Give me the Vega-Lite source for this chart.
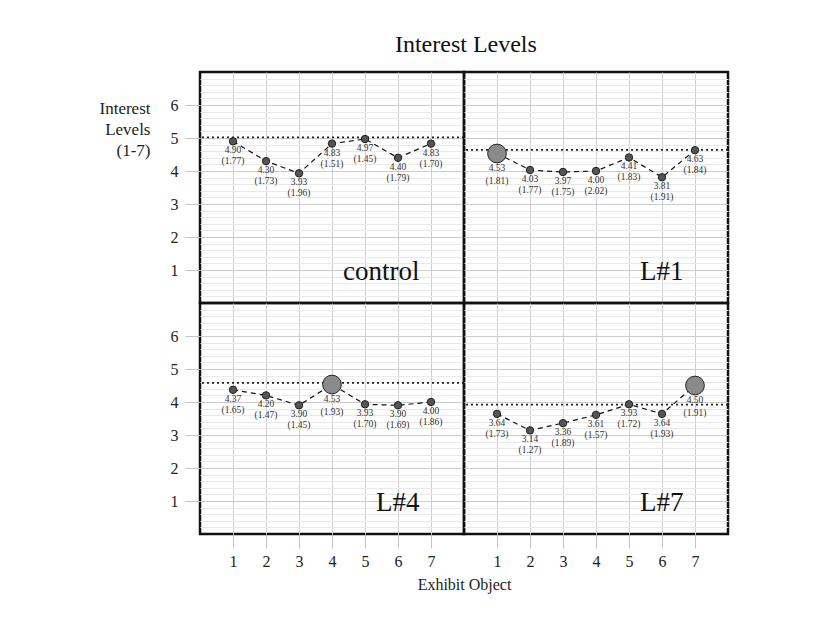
{
  "$schema": "https://vega.github.io/schema/vega-lite/v6.json",
  "padding": {"left": 97, "top": 32, "right": 5, "bottom": 5},
  "background": "white",
  "title": {"text": "Interest Levels", "fontSize": 24, "fontWeight": "normal", "font": "Liberation Serif", "anchor": "middle", "frame": "bounds", "offset": 14, "dx": 52, "color": "#111"},
  "config": {
    "font": "Liberation Serif",
    "view": {"stroke": "#111", "strokeWidth": 2.5},
    "axis": {"labelFont": "Liberation Serif", "titleFont": "Liberation Serif", "labelColor": "#222", "titleColor": "#222", "titleFontWeight": "normal"}
  },
  "data": {"values": [
    {"panel": "control", "obj": 1, "mean": 4.90, "sd": "(1.77)", "featured": false, "ref": 5.02},
    {"panel": "control", "obj": 2, "mean": 4.30, "sd": "(1.73)", "featured": false, "ref": 5.02},
    {"panel": "control", "obj": 3, "mean": 3.93, "sd": "(1.96)", "featured": false, "ref": 5.02},
    {"panel": "control", "obj": 4, "mean": 4.83, "sd": "(1.51)", "featured": false, "ref": 5.02},
    {"panel": "control", "obj": 5, "mean": 4.97, "sd": "(1.45)", "featured": false, "ref": 5.02},
    {"panel": "control", "obj": 6, "mean": 4.40, "sd": "(1.79)", "featured": false, "ref": 5.02},
    {"panel": "control", "obj": 7, "mean": 4.83, "sd": "(1.70)", "featured": false, "ref": 5.02},
    {"panel": "L#1", "obj": 1, "mean": 4.53, "sd": "(1.81)", "featured": true, "ref": 4.64},
    {"panel": "L#1", "obj": 2, "mean": 4.03, "sd": "(1.77)", "featured": false, "ref": 4.64},
    {"panel": "L#1", "obj": 3, "mean": 3.97, "sd": "(1.75)", "featured": false, "ref": 4.64},
    {"panel": "L#1", "obj": 4, "mean": 4.00, "sd": "(2.02)", "featured": false, "ref": 4.64},
    {"panel": "L#1", "obj": 5, "mean": 4.41, "sd": "(1.83)", "featured": false, "ref": 4.64},
    {"panel": "L#1", "obj": 6, "mean": 3.81, "sd": "(1.91)", "featured": false, "ref": 4.64},
    {"panel": "L#1", "obj": 7, "mean": 4.63, "sd": "(1.84)", "featured": false, "ref": 4.64},
    {"panel": "L#4", "obj": 1, "mean": 4.37, "sd": "(1.65)", "featured": false, "ref": 4.58},
    {"panel": "L#4", "obj": 2, "mean": 4.20, "sd": "(1.47)", "featured": false, "ref": 4.58},
    {"panel": "L#4", "obj": 3, "mean": 3.90, "sd": "(1.45)", "featured": false, "ref": 4.58},
    {"panel": "L#4", "obj": 4, "mean": 4.53, "sd": "(1.93)", "featured": true, "ref": 4.58},
    {"panel": "L#4", "obj": 5, "mean": 3.93, "sd": "(1.70)", "featured": false, "ref": 4.58},
    {"panel": "L#4", "obj": 6, "mean": 3.90, "sd": "(1.69)", "featured": false, "ref": 4.58},
    {"panel": "L#4", "obj": 7, "mean": 4.00, "sd": "(1.86)", "featured": false, "ref": 4.58},
    {"panel": "L#7", "obj": 1, "mean": 3.64, "sd": "(1.73)", "featured": false, "ref": 3.92},
    {"panel": "L#7", "obj": 2, "mean": 3.14, "sd": "(1.27)", "featured": false, "ref": 3.92},
    {"panel": "L#7", "obj": 3, "mean": 3.36, "sd": "(1.89)", "featured": false, "ref": 3.92},
    {"panel": "L#7", "obj": 4, "mean": 3.61, "sd": "(1.57)", "featured": false, "ref": 3.92},
    {"panel": "L#7", "obj": 5, "mean": 3.93, "sd": "(1.72)", "featured": false, "ref": 3.92},
    {"panel": "L#7", "obj": 6, "mean": 3.64, "sd": "(1.93)", "featured": false, "ref": 3.92},
    {"panel": "L#7", "obj": 7, "mean": 4.50, "sd": "(1.91)", "featured": true, "ref": 3.92}
  ]},
  "columns": 2,
  "spacing": 0,
  "bounds": "flush",
  "concat": [
    {
      "width": 264, "height": 231,
      "transform": [{"filter": "datum.panel === 'control'"}],
      "resolve": {"axis": {"y": "independent"}},
      "layer": [
        {"transform": [{"filter": "datum.obj === 1"}], "mark": {"type": "rule", "strokeDash": [2, 3], "strokeWidth": 1.6, "color": "#222"},
         "encoding": {"y": {"field": "ref", "type": "quantitative", "scale": {"domain": [0, 7], "nice": false, "zero": false},
           "axis": {"orient": "left", "values": [0.2, 0.4, 0.6, 0.8, 1.2, 1.4, 1.6, 1.8, 2.2, 2.4, 2.6, 2.8, 3.2, 3.4, 3.6, 3.8, 4.2, 4.4, 4.6, 4.8, 5.2, 5.4, 5.6, 5.8, 6.2, 6.4, 6.6, 6.8], "grid": true, "gridColor": "#e9e9e9", "labels": false, "ticks": false, "domain": false, "title": null}}}},
        {"mark": {"type": "line", "strokeDash": [5, 4], "strokeWidth": 1.2, "color": "#111"},
         "encoding": {
           "x": {"field": "obj", "type": "quantitative", "scale": {"domain": [0, 8], "nice": false, "zero": false},
                 "axis": {"values": [1, 2, 3, 4, 5, 6, 7], "grid": true, "gridColor": "#cfcfcf", "labels": false, "ticks": false, "domain": false, "title": null}},
           "y": {"field": "mean", "type": "quantitative",
                 "axis": {"orient": "left", "values": [1, 2, 3, 4, 5, 6], "grid": true, "gridColor": "#cccccc", "labelFontSize": 16, "labelPadding": 7,
                          "tickSize": 15, "tickColor": "#c4c4c4", "domain": false,
                          "title": ["Interest", "Levels", "(1-7)"], "titleFontSize": 17, "titleAngle": 0, "titleAlign": "right", "titleBaseline": "top", "titleLineHeight": 21, "titleX": -50, "titleY": 28}}}},
        {"mark": {"type": "circle", "stroke": "#222", "strokeWidth": 1, "opacity": 1},
         "encoding": {"x": {"field": "obj", "type": "quantitative"}, "y": {"field": "mean", "type": "quantitative", "axis": null},
           "size": {"field": "featured", "type": "nominal", "scale": {"domain": [false, true], "range": [55, 350]}, "legend": null},
           "fill": {"field": "featured", "type": "nominal", "scale": {"domain": [false, true], "range": ["#555555", "#8a8a8a"]}, "legend": null}}},
        {"transform": [{"filter": "!datum.featured"}], "mark": {"type": "text", "fontSize": 9.5, "dy": 9, "baseline": "middle", "color": "#333"},
         "encoding": {"x": {"field": "obj", "type": "quantitative"}, "y": {"field": "mean", "type": "quantitative", "axis": null}, "text": {"field": "mean", "type": "quantitative", "format": ".2f"}}},
        {"transform": [{"filter": "!datum.featured"}], "mark": {"type": "text", "fontSize": 9.5, "dy": 20, "baseline": "middle", "color": "#333"},
         "encoding": {"x": {"field": "obj", "type": "quantitative"}, "y": {"field": "mean", "type": "quantitative", "axis": null}, "text": {"field": "sd", "type": "nominal"}}},
        {"transform": [{"filter": "datum.obj === 1"}], "mark": {"type": "text", "fontSize": 27, "align": "right", "baseline": "alphabetic", "color": "#111"},
         "encoding": {"x": {"datum": 6.65, "type": "quantitative"}, "y": {"datum": 0.7, "type": "quantitative", "axis": null}, "text": {"field": "panel", "type": "nominal"}}}
      ]
    },
    {
      "width": 264, "height": 231,
      "transform": [{"filter": "datum.panel === 'L#1'"}],
      "resolve": {"axis": {"y": "independent"}},
      "layer": [
        {"transform": [{"filter": "datum.obj === 1"}], "mark": {"type": "rule", "strokeDash": [2, 3], "strokeWidth": 1.6, "color": "#222"},
         "encoding": {"y": {"field": "ref", "type": "quantitative", "scale": {"domain": [0, 7], "nice": false, "zero": false},
           "axis": {"orient": "left", "values": [0.2, 0.4, 0.6, 0.8, 1.2, 1.4, 1.6, 1.8, 2.2, 2.4, 2.6, 2.8, 3.2, 3.4, 3.6, 3.8, 4.2, 4.4, 4.6, 4.8, 5.2, 5.4, 5.6, 5.8, 6.2, 6.4, 6.6, 6.8], "grid": true, "gridColor": "#e9e9e9", "labels": false, "ticks": false, "domain": false, "title": null}}}},
        {"mark": {"type": "line", "strokeDash": [5, 4], "strokeWidth": 1.2, "color": "#111"},
         "encoding": {
           "x": {"field": "obj", "type": "quantitative", "scale": {"domain": [0, 8], "nice": false, "zero": false},
                 "axis": {"values": [1, 2, 3, 4, 5, 6, 7], "grid": true, "gridColor": "#cfcfcf", "labels": false, "ticks": false, "domain": false, "title": null}},
           "y": {"field": "mean", "type": "quantitative",
                 "axis": {"orient": "left", "values": [1, 2, 3, 4, 5, 6], "grid": true, "gridColor": "#cccccc", "labels": false, "ticks": false, "domain": false, "title": null}}}},
        {"mark": {"type": "circle", "stroke": "#222", "strokeWidth": 1, "opacity": 1},
         "encoding": {"x": {"field": "obj", "type": "quantitative"}, "y": {"field": "mean", "type": "quantitative", "axis": null},
           "size": {"field": "featured", "type": "nominal", "scale": {"domain": [false, true], "range": [55, 350]}, "legend": null},
           "fill": {"field": "featured", "type": "nominal", "scale": {"domain": [false, true], "range": ["#555555", "#8a8a8a"]}, "legend": null}}},
        {"transform": [{"filter": "!datum.featured"}], "mark": {"type": "text", "fontSize": 9.5, "dy": 9, "baseline": "middle", "color": "#333"},
         "encoding": {"x": {"field": "obj", "type": "quantitative"}, "y": {"field": "mean", "type": "quantitative", "axis": null}, "text": {"field": "mean", "type": "quantitative", "format": ".2f"}}},
        {"transform": [{"filter": "!datum.featured"}], "mark": {"type": "text", "fontSize": 9.5, "dy": 20, "baseline": "middle", "color": "#333"},
         "encoding": {"x": {"field": "obj", "type": "quantitative"}, "y": {"field": "mean", "type": "quantitative", "axis": null}, "text": {"field": "sd", "type": "nominal"}}},
        {"transform": [{"filter": "datum.featured"}], "mark": {"type": "text", "fontSize": 9.5, "dy": 14, "baseline": "middle", "color": "#333"},
         "encoding": {"x": {"field": "obj", "type": "quantitative"}, "y": {"field": "mean", "type": "quantitative", "axis": null}, "text": {"field": "mean", "type": "quantitative", "format": ".2f"}}},
        {"transform": [{"filter": "datum.featured"}], "mark": {"type": "text", "fontSize": 9.5, "dy": 27, "baseline": "middle", "color": "#333"},
         "encoding": {"x": {"field": "obj", "type": "quantitative"}, "y": {"field": "mean", "type": "quantitative", "axis": null}, "text": {"field": "sd", "type": "nominal"}}},
        {"transform": [{"filter": "datum.obj === 1"}], "mark": {"type": "text", "fontSize": 27, "align": "right", "baseline": "alphabetic", "color": "#111"},
         "encoding": {"x": {"datum": 6.65, "type": "quantitative"}, "y": {"datum": 0.7, "type": "quantitative", "axis": null}, "text": {"field": "panel", "type": "nominal"}}}
      ]
    },
    {
      "width": 264, "height": 231,
      "transform": [{"filter": "datum.panel === 'L#4'"}],
      "resolve": {"axis": {"y": "independent"}},
      "layer": [
        {"transform": [{"filter": "datum.obj === 1"}], "mark": {"type": "rule", "strokeDash": [2, 3], "strokeWidth": 1.6, "color": "#222"},
         "encoding": {"y": {"field": "ref", "type": "quantitative", "scale": {"domain": [0, 7], "nice": false, "zero": false},
           "axis": {"orient": "left", "values": [0.2, 0.4, 0.6, 0.8, 1.2, 1.4, 1.6, 1.8, 2.2, 2.4, 2.6, 2.8, 3.2, 3.4, 3.6, 3.8, 4.2, 4.4, 4.6, 4.8, 5.2, 5.4, 5.6, 5.8, 6.2, 6.4, 6.6, 6.8], "grid": true, "gridColor": "#e9e9e9", "labels": false, "ticks": false, "domain": false, "title": null}}}},
        {"mark": {"type": "line", "strokeDash": [5, 4], "strokeWidth": 1.2, "color": "#111"},
         "encoding": {
           "x": {"field": "obj", "type": "quantitative", "scale": {"domain": [0, 8], "nice": false, "zero": false},
                 "axis": {"values": [1, 2, 3, 4, 5, 6, 7], "grid": true, "gridColor": "#cfcfcf", "labelFontSize": 16, "labelPadding": 5, "tickSize": 14, "tickColor": "#c4c4c4", "domain": false,
                          "title": "Exhibit Object", "titleFontSize": 16, "titleX": 264, "titleY": 50, "titleBaseline": "middle", "titleAlign": "center"}},
           "y": {"field": "mean", "type": "quantitative",
                 "axis": {"orient": "left", "values": [1, 2, 3, 4, 5, 6], "grid": true, "gridColor": "#cccccc", "labelFontSize": 16, "labelPadding": 7,
                          "tickSize": 15, "tickColor": "#c4c4c4", "domain": false, "title": null}}}},
        {"mark": {"type": "circle", "stroke": "#222", "strokeWidth": 1, "opacity": 1},
         "encoding": {"x": {"field": "obj", "type": "quantitative"}, "y": {"field": "mean", "type": "quantitative", "axis": null},
           "size": {"field": "featured", "type": "nominal", "scale": {"domain": [false, true], "range": [55, 350]}, "legend": null},
           "fill": {"field": "featured", "type": "nominal", "scale": {"domain": [false, true], "range": ["#555555", "#8a8a8a"]}, "legend": null}}},
        {"transform": [{"filter": "!datum.featured"}], "mark": {"type": "text", "fontSize": 9.5, "dy": 9, "baseline": "middle", "color": "#333"},
         "encoding": {"x": {"field": "obj", "type": "quantitative"}, "y": {"field": "mean", "type": "quantitative", "axis": null}, "text": {"field": "mean", "type": "quantitative", "format": ".2f"}}},
        {"transform": [{"filter": "!datum.featured"}], "mark": {"type": "text", "fontSize": 9.5, "dy": 20, "baseline": "middle", "color": "#333"},
         "encoding": {"x": {"field": "obj", "type": "quantitative"}, "y": {"field": "mean", "type": "quantitative", "axis": null}, "text": {"field": "sd", "type": "nominal"}}},
        {"transform": [{"filter": "datum.featured"}], "mark": {"type": "text", "fontSize": 9.5, "dy": 14, "baseline": "middle", "color": "#333"},
         "encoding": {"x": {"field": "obj", "type": "quantitative"}, "y": {"field": "mean", "type": "quantitative", "axis": null}, "text": {"field": "mean", "type": "quantitative", "format": ".2f"}}},
        {"transform": [{"filter": "datum.featured"}], "mark": {"type": "text", "fontSize": 9.5, "dy": 27, "baseline": "middle", "color": "#333"},
         "encoding": {"x": {"field": "obj", "type": "quantitative"}, "y": {"field": "mean", "type": "quantitative", "axis": null}, "text": {"field": "sd", "type": "nominal"}}},
        {"transform": [{"filter": "datum.obj === 1"}], "mark": {"type": "text", "fontSize": 27, "align": "right", "baseline": "alphabetic", "color": "#111"},
         "encoding": {"x": {"datum": 6.65, "type": "quantitative"}, "y": {"datum": 0.7, "type": "quantitative", "axis": null}, "text": {"field": "panel", "type": "nominal"}}}
      ]
    },
    {
      "width": 264, "height": 231,
      "transform": [{"filter": "datum.panel === 'L#7'"}],
      "resolve": {"axis": {"y": "independent"}},
      "layer": [
        {"transform": [{"filter": "datum.obj === 1"}], "mark": {"type": "rule", "strokeDash": [2, 3], "strokeWidth": 1.6, "color": "#222"},
         "encoding": {"y": {"field": "ref", "type": "quantitative", "scale": {"domain": [0, 7], "nice": false, "zero": false},
           "axis": {"orient": "left", "values": [0.2, 0.4, 0.6, 0.8, 1.2, 1.4, 1.6, 1.8, 2.2, 2.4, 2.6, 2.8, 3.2, 3.4, 3.6, 3.8, 4.2, 4.4, 4.6, 4.8, 5.2, 5.4, 5.6, 5.8, 6.2, 6.4, 6.6, 6.8], "grid": true, "gridColor": "#e9e9e9", "labels": false, "ticks": false, "domain": false, "title": null}}}},
        {"mark": {"type": "line", "strokeDash": [5, 4], "strokeWidth": 1.2, "color": "#111"},
         "encoding": {
           "x": {"field": "obj", "type": "quantitative", "scale": {"domain": [0, 8], "nice": false, "zero": false},
                 "axis": {"values": [1, 2, 3, 4, 5, 6, 7], "grid": true, "gridColor": "#cfcfcf", "labelFontSize": 16, "labelPadding": 5, "tickSize": 14, "tickColor": "#c4c4c4", "domain": false, "title": null}},
           "y": {"field": "mean", "type": "quantitative",
                 "axis": {"orient": "left", "values": [1, 2, 3, 4, 5, 6], "grid": true, "gridColor": "#cccccc", "labels": false, "ticks": false, "domain": false, "title": null}}}},
        {"mark": {"type": "circle", "stroke": "#222", "strokeWidth": 1, "opacity": 1},
         "encoding": {"x": {"field": "obj", "type": "quantitative"}, "y": {"field": "mean", "type": "quantitative", "axis": null},
           "size": {"field": "featured", "type": "nominal", "scale": {"domain": [false, true], "range": [55, 350]}, "legend": null},
           "fill": {"field": "featured", "type": "nominal", "scale": {"domain": [false, true], "range": ["#555555", "#8a8a8a"]}, "legend": null}}},
        {"transform": [{"filter": "!datum.featured"}], "mark": {"type": "text", "fontSize": 9.5, "dy": 9, "baseline": "middle", "color": "#333"},
         "encoding": {"x": {"field": "obj", "type": "quantitative"}, "y": {"field": "mean", "type": "quantitative", "axis": null}, "text": {"field": "mean", "type": "quantitative", "format": ".2f"}}},
        {"transform": [{"filter": "!datum.featured"}], "mark": {"type": "text", "fontSize": 9.5, "dy": 20, "baseline": "middle", "color": "#333"},
         "encoding": {"x": {"field": "obj", "type": "quantitative"}, "y": {"field": "mean", "type": "quantitative", "axis": null}, "text": {"field": "sd", "type": "nominal"}}},
        {"transform": [{"filter": "datum.featured"}], "mark": {"type": "text", "fontSize": 9.5, "dy": 14, "baseline": "middle", "color": "#333"},
         "encoding": {"x": {"field": "obj", "type": "quantitative"}, "y": {"field": "mean", "type": "quantitative", "axis": null}, "text": {"field": "mean", "type": "quantitative", "format": ".2f"}}},
        {"transform": [{"filter": "datum.featured"}], "mark": {"type": "text", "fontSize": 9.5, "dy": 27, "baseline": "middle", "color": "#333"},
         "encoding": {"x": {"field": "obj", "type": "quantitative"}, "y": {"field": "mean", "type": "quantitative", "axis": null}, "text": {"field": "sd", "type": "nominal"}}},
        {"transform": [{"filter": "datum.obj === 1"}], "mark": {"type": "text", "fontSize": 27, "align": "right", "baseline": "alphabetic", "color": "#111"},
         "encoding": {"x": {"datum": 6.65, "type": "quantitative"}, "y": {"datum": 0.7, "type": "quantitative", "axis": null}, "text": {"field": "panel", "type": "nominal"}}}
      ]
    }
  ]
}
